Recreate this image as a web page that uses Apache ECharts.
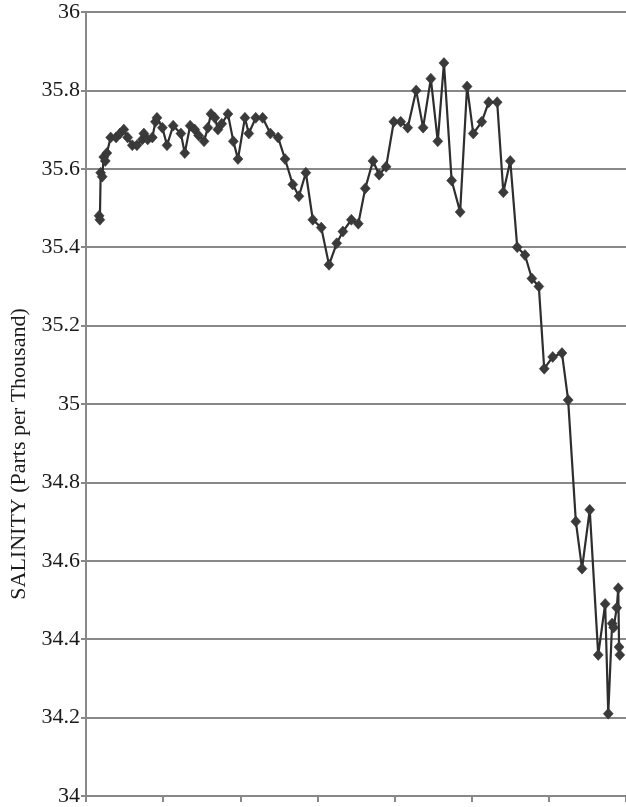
<!DOCTYPE html>
<html>
<head>
<meta charset="utf-8">
<script src="https://cdn.jsdelivr.net/npm/echarts@6/dist/echarts.min.js"></script>
<style>
html,body{margin:0;padding:0;background:#fff;}
#chart{width:626px;height:807px;}
</style>
</head>
<body>
<div id="chart"></div>
<script>
// Position along the horizontal axis (axis units, ticks every 1)
var xPos = [0.17,0.18,0.19,0.21,0.23,0.25,0.27,0.32,
  0.39,0.44,0.49,0.54,0.60,0.66,0.73,0.75,0.80,0.86,
  0.90,0.92,0.99,1.05,1.13,1.23,1.28,1.35,1.41,1.46,
  1.53,1.58,1.62,1.67,1.71,1.76,1.84,1.91,1.97,2.06,
  2.11,2.20,2.29,2.39,2.49,2.58,2.68,2.76,2.85,2.94,
  3.05,3.15,3.25,3.33,3.44,3.53,3.62,3.72,3.80,3.89,
  3.99,4.08,4.17,4.28,4.37,4.47,4.56,4.64,4.74,4.85,
  4.94,5.02,5.13,5.22,5.33,5.41,5.50,5.59,5.69,5.78,
  5.87,5.94,6.05,6.17,6.25,6.35,6.43,6.53,6.64,6.73,
  6.77,6.82,6.84,6.88,6.90,6.91,6.92];
// Salinity values (parts per thousand)
var salinity = [35.48,35.47,35.59,35.58,35.63,35.62,35.64,35.68,
  35.68,35.69,35.70,35.68,35.66,35.66,35.675,35.69,35.675,35.68,
  35.72,35.73,35.705,35.66,35.71,35.69,35.64,35.71,35.70,35.685,
  35.67,35.705,35.74,35.73,35.70,35.715,35.74,35.67,35.625,35.73,
  35.69,35.73,35.73,35.69,35.68,35.625,35.56,35.53,35.59,35.47,
  35.45,35.355,35.41,35.44,35.47,35.46,35.55,35.62,35.585,35.605,
  35.72,35.72,35.705,35.80,35.705,35.83,35.67,35.87,35.57,35.49,
  35.81,35.69,35.72,35.77,35.77,35.54,35.62,35.40,35.38,35.32,
  35.30,35.09,35.12,35.13,35.01,34.70,34.58,34.73,34.36,34.49,
  34.21,34.44,34.43,34.48,34.53,34.38,34.36];
var yAxisName = 'SALINITY (Parts per Thousand)';
var yMin = 34, yMax = 36, yStep = 0.2;
var xMin = 0, xMax = 7, xStep = 1;

var points = xPos.map(function (x, i) { return [x, salinity[i]]; });

var chart = echarts.init(document.getElementById('chart'));
chart.setOption({
  animation: false,
  backgroundColor: '#ffffff',
  grid: { left: 86, right: 0, top: 12, bottom: 5, containLabel: false },
  xAxis: {
    type: 'value',
    min: xMin, max: xMax, interval: xStep,
    axisLine: { show: true, lineStyle: { color: '#888888', width: 2 } },
    axisTick: { show: true, length: 6, lineStyle: { color: '#888888', width: 2 } },
    axisLabel: { show: false },
    splitLine: { show: false }
  },
  yAxis: {
    type: 'value',
    min: yMin, max: yMax, interval: yStep,
    name: yAxisName,
    nameLocation: 'middle',
    nameRotate: 90,
    nameGap: 44,
    nameTextStyle: { fontFamily: 'Liberation Serif', fontSize: 22, color: '#1a1a1a', padding: [0, 100, 0, 0] },
    axisLine: { show: true, lineStyle: { color: '#888888', width: 2 } },
    axisTick: { show: true, length: 5, lineStyle: { color: '#888888', width: 2 } },
    axisLabel: {
      margin: 6,
      fontFamily: 'Liberation Serif', fontSize: 22, color: '#1a1a1a',
      formatter: function (v) { return String(Math.round(v * 10) / 10); }
    },
    splitLine: { show: true, lineStyle: { color: '#888888', width: 2 } }
  },
  series: [{
    type: 'line',
    data: points,
    symbol: 'diamond',
    symbolSize: [10, 11],
    lineStyle: { color: '#2e2e2e', width: 2.2 },
    itemStyle: { color: '#3a3a3a', borderColor: '#2e2e2e', borderWidth: 0.5 }
  }]
});
</script>
</body>
</html>
